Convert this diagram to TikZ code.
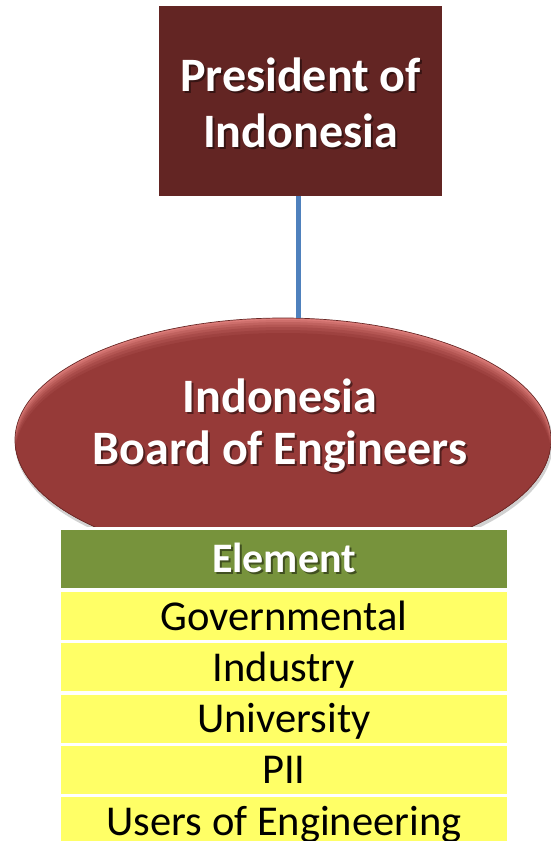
\documentclass[tikz,border=0pt]{standalone}
\usepackage{fontspec}
\setmainfont{Carlito}
\usetikzlibrary{shapes.geometric}
\definecolor{presred}{HTML}{632523}
\definecolor{boardred}{HTML}{963A38}
\definecolor{boardlight}{HTML}{DC7C79}
\definecolor{linkblue}{HTML}{4F81BD}
\definecolor{elemgreen}{HTML}{77933C}
\definecolor{rowyellow}{HTML}{FFFF66}
\begin{document}
\begin{tikzpicture}[x=1pt,y=-1pt,
  bigtext/.style={font=\bfseries\fontsize{48}{56}\selectfont, text=white, align=center, inner sep=0},
  shadowed/.style={text=black, text opacity=0.45},
  rowbox/.style={rectangle, fill=rowyellow, minimum width=446pt, minimum height=48pt, inner sep=0,
    text height=28pt, text depth=0pt, font=\fontsize{42.5}{50}\selectfont},
  headbox/.style={rectangle, fill=elemgreen, minimum width=446pt, minimum height=58pt, inner sep=0},
  headtext/.style={inner sep=0, text height=28pt, text depth=0pt, font=\bfseries\fontsize{42}{50}\selectfont, text=white},
  boardell/.style={x radius=268pt, y radius=122pt}
]
\useasboundingbox (0,0) rectangle (551,841);
\clip (0,0) rectangle (551,841);

% President box
\node[rectangle, fill=presred, minimum width=283pt, minimum height=190pt, inner sep=0] (pres) at (300.5,101) {};
\node[bigtext, shadowed] (presS) at (302.5,105) {President of\\Indonesia};
\node[bigtext] (presT) at (300.5,103) {President of\\Indonesia};

% Board ellipse
\begin{scope}
  \clip (0,0) rectangle (551,526);
  \fill[black, opacity=0.18] (284,443) ellipse [x radius=269pt, y radius=123pt];
  \node[ellipse, fill=boardlight, minimum width=536pt, minimum height=244pt, inner sep=0] (ibe) at (283,440) {};
  \begin{scope}
    \clip (ibe.center) ellipse [boardell];
    \fill[boardlight!80!boardred] ([yshift=-2pt]ibe.center) ellipse [boardell];
    \fill[boardlight!60!boardred] ([yshift=-4pt]ibe.center) ellipse [boardell];
    \fill[boardlight!42!boardred] ([yshift=-6.5pt]ibe.center) ellipse [boardell];
    \fill[boardlight!26!boardred] ([yshift=-9pt]ibe.center) ellipse [boardell];
    \fill[boardlight!12!boardred] ([yshift=-12pt]ibe.center) ellipse [boardell];
    \fill[boardred] ([yshift=-15pt]ibe.center) ellipse [boardell];
  \end{scope}
  \draw[boardred!70!black, line width=0.7pt] (ibe.center) ellipse [boardell];
\end{scope}
\draw[linkblue, line width=5pt] ([xshift=-2.5pt]pres.south) -- ([xshift=-2.5pt]pres.south |- ibe.north);
\node[bigtext, shadowed, font=\bfseries\fontsize{48}{52}\selectfont] (ibeS) at (282,428) {Indonesia\\Board of Engineers};
\node[bigtext, font=\bfseries\fontsize{48}{52}\selectfont] (ibeT) at (280,426) {Indonesia\\Board of Engineers};

% Element table
\node[headbox] (elem) at (284,559) {};
\node[headtext, shadowed] (elemS) at (286,560) {Element};
\node[headtext] (elemT) at (284,558) {Element};
\node[rowbox] (gov) at (284,616) {Governmental};
\node[rowbox] (ind) at (284,667.25) {Industry};
\node[rowbox] (uni) at (284,718.5) {University};
\node[rowbox] (pii) at (284,769.75) {PII};
\node[rowbox] (usr) at (284,821) {Users of Engineering};
\end{tikzpicture}
\end{document}
